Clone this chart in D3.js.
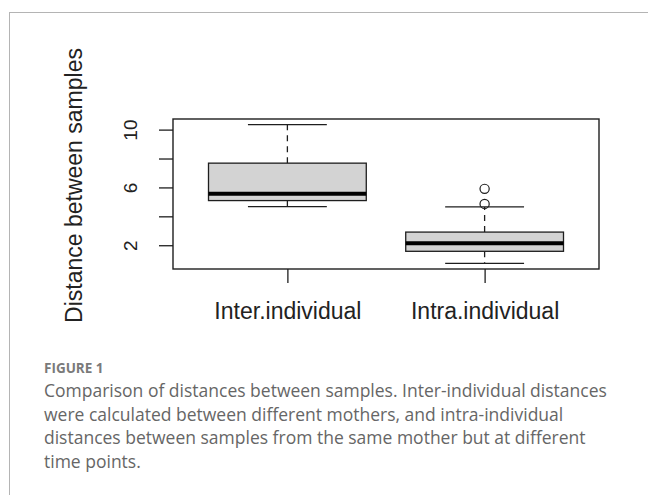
<!DOCTYPE html>
<html>
<head>
<meta charset="utf-8">
<script src="https://cdn.jsdelivr.net/npm/d3@7"></script>
<style>
  body { margin: 0; background: #fff; }
  svg { display: block; }
</style>
</head>
<body>
<svg id="svg"></svg>
<script>
// box statistics (lower whisker, Q1, median, Q3, upper whisker)
const groups = ['Inter.individual', 'Intra.individual'];
const whiskerLow = [4.67, 0.74];
const quartile1 = [5.09, 1.58];
const medians = [5.56, 2.14];
const quartile3 = [7.68, 2.91];
const whiskerHigh = [10.35, 4.65];
const outliers = [[], [4.86, 5.9]];
const yTicks = [2, 4, 6, 8, 10];
const yTickLabels = ['2', '', '6', '', '10'];
const captionLabel = 'FIGURE 1';
const captionLines = [
  'Comparison of distances between samples. Inter-individual distances',
  'were calculated between different mothers, and intra-individual',
  'distances between samples from the same mother but at different',
  'time points.'
];

const width = 648;
const height = 495;

const svg = d3.select('#svg')
  .attr('width', width)
  .attr('height', height);

// outer figure frame (only left and top edges visible)
svg.append('rect')
  .attr('x', 9.5)
  .attr('y', 12.5)
  .attr('width', 700)
  .attr('height', 600)
  .attr('fill', 'none')
  .attr('stroke', '#b4b4b4')
  .attr('stroke-width', 1);

// plot region
const plot = { left: 173, right: 599, top: 119, bottom: 269 };

// R style 4% extension of the ranges
const allVals = whiskerLow.concat(whiskerHigh, outliers.flat());
const yMin = d3.min(allVals), yMax = d3.max(allVals);
const pad = (yMax - yMin) * 0.04;

const y = d3.scaleLinear()
  .domain([yMin - pad, yMax + pad])
  .range([plot.bottom, plot.top]);

const x = d3.scaleLinear()
  .domain([0.5 - 0.08, groups.length + 0.5 + 0.08])
  .range([plot.left, plot.right]);

const ink = '#1e1e1e';
const boxW = 0.8;

const g = svg.append('g');

groups.forEach((name, i) => {
  const cx = x(i + 1);
  const half = (x(1 + boxW / 2) - x(1));
  const stapleHalf = half / 2;

  // dashed whiskers
  g.append('line')
    .attr('x1', cx).attr('x2', cx)
    .attr('y1', y(quartile3[i])).attr('y2', y(whiskerHigh[i]))
    .attr('stroke', ink).attr('stroke-width', 1.3)
    .attr('stroke-dasharray', '6,5');
  g.append('line')
    .attr('x1', cx).attr('x2', cx)
    .attr('y1', y(quartile1[i])).attr('y2', y(whiskerLow[i]))
    .attr('stroke', ink).attr('stroke-width', 1.3)
    .attr('stroke-dasharray', '6,5');

  // staples
  [whiskerLow[i], whiskerHigh[i]].forEach(v => {
    g.append('line')
      .attr('x1', cx - stapleHalf).attr('x2', cx + stapleHalf)
      .attr('y1', y(v)).attr('y2', y(v))
      .attr('stroke', ink).attr('stroke-width', 1.3);
  });

  // box
  g.append('rect')
    .attr('x', cx - half)
    .attr('y', y(quartile3[i]))
    .attr('width', half * 2)
    .attr('height', y(quartile1[i]) - y(quartile3[i]))
    .attr('fill', '#d3d3d3')
    .attr('stroke', ink)
    .attr('stroke-width', 1.3);

  // median
  g.append('line')
    .attr('x1', cx - half).attr('x2', cx + half)
    .attr('y1', y(medians[i])).attr('y2', y(medians[i]))
    .attr('stroke', '#000').attr('stroke-width', 4);

  // outliers
  g.selectAll(null)
    .data(outliers[i])
    .enter()
    .append('circle')
    .attr('cx', cx)
    .attr('cy', d => y(d))
    .attr('r', 4.6)
    .attr('fill', 'none')
    .attr('stroke', ink)
    .attr('stroke-width', 1.2);
});

// plot box
svg.append('rect')
  .attr('x', plot.left)
  .attr('y', plot.top)
  .attr('width', plot.right - plot.left)
  .attr('height', plot.bottom - plot.top)
  .attr('fill', 'none')
  .attr('stroke', ink)
  .attr('stroke-width', 1.4);

// y axis
const yAxis = d3.axisLeft(y)
  .tickValues(yTicks)
  .tickSize(14)
  .tickFormat((d, i) => yTickLabels[i]);

const yAxisG = svg.append('g')
  .attr('transform', `translate(${plot.left},0)`)
  .call(yAxis);
yAxisG.select('.domain').remove();
yAxisG.selectAll('.tick line').attr('stroke', ink).attr('stroke-width', 1.3);
yAxisG.selectAll('.tick text')
  .attr('x', null).attr('dy', null)
  .attr('text-anchor', 'middle')
  .attr('transform', 'translate(-36,0) rotate(-90)')
  .attr('font-family', 'Liberation Sans, Arial, sans-serif')
  .attr('font-size', '19px')
  .attr('fill', '#222');

// x axis
const xAxis = d3.axisBottom(x)
  .tickValues(groups.map((d, i) => i + 1))
  .tickSize(14)
  .tickFormat((d, i) => groups[i]);

const xAxisG = svg.append('g')
  .attr('transform', `translate(0,${plot.bottom})`)
  .call(xAxis);
xAxisG.select('.domain').remove();
xAxisG.selectAll('.tick line').attr('stroke', ink).attr('stroke-width', 1.3);
xAxisG.selectAll('.tick text')
  .attr('y', 50).attr('dy', null)
  .attr('font-family', 'Liberation Sans, Arial, sans-serif')
  .attr('font-size', '23px')
  .attr('fill', '#222');

// y axis title
svg.append('text')
  .attr('transform', `translate(82,${(48 + 323) / 2}) rotate(-90)`)
  .attr('text-anchor', 'middle')
  .attr('font-family', 'Liberation Sans, Arial, sans-serif')
  .attr('font-size', '23px')
  .attr('fill', '#222')
  .text('Distance between samples');

// caption
svg.append('text')
  .attr('x', 44)
  .attr('y', 373)
  .attr('font-family', 'Open Sans, sans-serif')
  .attr('font-weight', 'bold')
  .attr('font-size', '13.5px')
  .attr('fill', '#7a7a7a')
  .text(captionLabel);

svg.append('g')
  .selectAll('text')
  .data(captionLines)
  .enter()
  .append('text')
  .attr('x', 44)
  .attr('y', (d, i) => 397 + i * 23.5)
  .attr('font-family', 'Open Sans, sans-serif')
  .attr('font-size', '17.5px')
  .attr('fill', '#666')
  .text(d => d);
</script>
</body>
</html>
